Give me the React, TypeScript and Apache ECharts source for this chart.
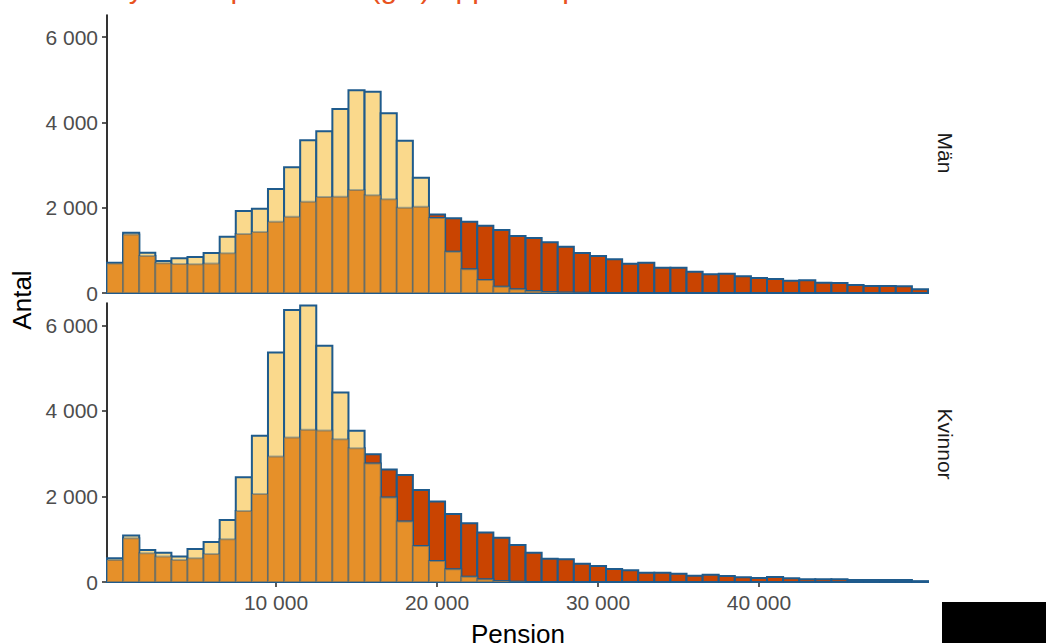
import React, { useEffect, useRef } from "react";
import * as echarts from "echarts";

// Histogram bin centres (bin width 1 000)
const binCenters = [
  0, 1000, 2000, 3000, 4000, 5000, 6000, 7000, 8000, 9000,
  10000, 11000, 12000, 13000, 14000, 15000, 16000, 17000, 18000, 19000,
  20000, 21000, 22000, 23000, 24000, 25000, 26000, 27000, 28000, 29000,
  30000, 31000, 32000, 33000, 34000, 35000, 36000, 37000, 38000, 39000,
  40000, 41000, 42000, 43000, 44000, 45000, 46000, 47000, 48000, 49000, 50000,
];

// Män
const menYellow = [
  711, 1414, 945, 750, 813, 844, 938, 1320, 1923, 1977,
  2439, 2947, 3580, 3791, 4315, 4753, 4720, 4214, 3571, 2704,
  1760, 968, 556, 305, 148, 86, 47, 20, 10, 5,
  0, 0, 0, 0, 0, 0, 0, 0, 0, 0,
  0, 0, 0, 0, 0, 0, 0, 0, 0, 0, 0,
];
const menRed = [
  690, 1370, 870, 700, 680, 675, 690, 930, 1385, 1430,
  1670, 1790, 2140, 2250, 2260, 2415, 2290, 2200, 2000, 2025,
  1840, 1752, 1672, 1578, 1477, 1337, 1290, 1189, 1086, 938,
  868, 790, 688, 711, 594, 594, 500, 438, 453, 391,
  352, 328, 289, 297, 242, 235, 188, 164, 164, 157, 86,
];

// Kvinnor
const womenYellow = [
  553, 1084, 749, 686, 593, 772, 936, 1451, 2449, 3416,
  5365, 6355, 6463, 5520, 4429, 3532, 2767, 1975, 1411, 842,
  491, 297, 124, 62, 20, 5, 0, 0, 0, 0,
  0, 0, 0, 0, 0, 0, 0, 0, 0, 0,
  0, 0, 0, 0, 0, 0, 0, 0, 0, 0, 0,
];
const womenRed = [
  515, 1022, 671, 593, 515, 554, 655, 999, 1661, 2058,
  2931, 3376, 3556, 3540, 3338, 3127, 2987, 2630, 2503, 2152,
  1879, 1591, 1373, 1154, 1037, 866, 686, 546, 531, 429,
  374, 304, 273, 218, 218, 195, 148, 172, 140, 109,
  94, 117, 86, 62, 62, 62, 47, 47, 47, 47, 20,
];

const yTicks = [0, 2000, 4000, 6000];
const xTicks = [10000, 20000, 30000, 40000];
const facetLabels = ["Män", "Kvinnor"];
const titleText = "Nyblivna pensioner (gul) uppdelat på kön";
const xTitle = "Pension";
const yTitle = "Antal";

const BIN_HALF = 500;
const YELLOW = "#FAD98C";
const ORANGE = "#E69029";
const RED = "#C94401";
const BLUE = "#1F5B8C";
const FONT = "Liberation Sans, Arial, sans-serif";

const fmt = (v: number) =>
  String(Math.round(v)).replace(/\B(?=(\d{3})+(?!\d))/g, " ");

function makeRender(fill: string, stroke: string, lw: number) {
  return (params: any, api: any) => {
    const x = api.value(0);
    const v = api.value(1);
    const p1 = api.coord([x - BIN_HALF, v]);
    const p0 = api.coord([x + BIN_HALF, 0]);
    return {
      type: "rect",
      shape: { x: p1[0], y: p1[1], width: p0[0] - p1[0], height: p0[1] - p1[1] },
      style: { fill, stroke, lineWidth: lw },
    };
  };
}

function layerSeries(gridIdx: number, yellow: number[], red: number[]) {
  const redData = binCenters.map((c, i) => [c, red[i]]);
  const yellowData = binCenters.map((c, i) => [c, yellow[i]]);
  const overlapData = binCenters.map((c, i) => [c, Math.min(yellow[i], red[i])]);
  return [
    {
      type: "custom",
      xAxisIndex: gridIdx,
      yAxisIndex: gridIdx,
      renderItem: makeRender(RED, BLUE, 2),
      data: redData,
      encode: { x: 0, y: 1 },
    },
    {
      type: "custom",
      xAxisIndex: gridIdx,
      yAxisIndex: gridIdx,
      renderItem: makeRender(YELLOW, BLUE, 2),
      data: yellowData,
      encode: { x: 0, y: 1 },
    },
    {
      type: "custom",
      xAxisIndex: gridIdx,
      yAxisIndex: gridIdx,
      renderItem: makeRender(ORANGE, "rgba(31,91,140,0.4)", 2),
      data: overlapData,
      encode: { x: 0, y: 1 },
    },
  ];
}

function yAxisCfg(gridIndex: number) {
  return {
    type: "value",
    gridIndex,
    min: 0,
    max: 6520,
    axisLine: { show: true, onZero: false, lineStyle: { color: "#000", width: 1.6 } },
    axisTick: {
      show: true,
      customValues: yTicks,
      length: 5,
      lineStyle: { color: "#333", width: 1.6 },
    },
    axisLabel: {
      customValues: yTicks,
      formatter: (v: number) => fmt(v),
      color: "#4D4D4D",
      fontSize: 21,
      fontFamily: FONT,
      margin: 9,
    },
    splitLine: { show: false },
  };
}

export default function App() {
  const ref = useRef<HTMLDivElement>(null);
  useEffect(() => {
    if (!ref.current) return;
    const chart = echarts.init(ref.current, undefined, { renderer: "svg" });
    const option: any = {
      animation: false,
      backgroundColor: "#fff",
      grid: [
        { left: 107, top: 15, width: 821, height: 278 },
        { left: 107, top: 303, width: 821, height: 279 },
      ],
      xAxis: [
        {
          type: "value",
          gridIndex: 0,
          min: -500,
          max: 50500,
          axisLine: { show: false },
          axisTick: { show: false },
          axisLabel: { show: false },
          splitLine: { show: false },
        },
        {
          type: "value",
          gridIndex: 1,
          min: -500,
          max: 50500,
          axisLine: { show: true, onZero: false, lineStyle: { color: "#000", width: 1.6 } },
          axisTick: {
            show: true,
            customValues: xTicks,
            length: 5,
            lineStyle: { color: "#333", width: 1.6 },
          },
          axisLabel: {
            customValues: xTicks,
            formatter: (v: number) => fmt(v),
            color: "#4D4D4D",
            fontSize: 21,
            fontFamily: FONT,
            margin: 10,
          },
          splitLine: { show: false },
        },
      ],
      yAxis: [yAxisCfg(0), yAxisCfg(1)],
      series: [
        ...layerSeries(0, menYellow, menRed),
        ...layerSeries(1, womenYellow, womenRed),
      ],
      graphic: [
        {
          type: "text",
          x: 107,
          y: 2,
          style: {
            text: titleText,
            fill: "#E8531F",
            fontSize: 30,
            fontFamily: FONT,
            align: "left",
            verticalAlign: "bottom",
          },
        },
        {
          type: "text",
          x: 22,
          y: 300,
          rotation: Math.PI / 2,
          style: {
            text: yTitle,
            fill: "#000",
            fontSize: 26,
            fontFamily: FONT,
            align: "center",
            verticalAlign: "middle",
          },
        },
        {
          type: "text",
          x: 518,
          y: 634,
          style: {
            text: xTitle,
            fill: "#000",
            fontSize: 26,
            fontFamily: FONT,
            align: "center",
            verticalAlign: "middle",
          },
        },
        {
          type: "text",
          x: 945,
          y: 153,
          rotation: -Math.PI / 2,
          style: {
            text: facetLabels[0],
            fill: "#1A1A1A",
            fontSize: 21,
            fontFamily: FONT,
            align: "center",
            verticalAlign: "middle",
          },
        },
        {
          type: "text",
          x: 945,
          y: 444,
          rotation: -Math.PI / 2,
          style: {
            text: facetLabels[1],
            fill: "#1A1A1A",
            fontSize: 21,
            fontFamily: FONT,
            align: "center",
            verticalAlign: "middle",
          },
        },
        {
          type: "rect",
          shape: { x: 942, y: 602, width: 104, height: 41 },
          style: { fill: "#000" },
        },
      ],
    };
    chart.setOption(option);
    return () => chart.dispose();
  }, []);
  return (
    <div
      ref={ref}
      style={{ position: "fixed", left: 0, top: 0, width: 1046, height: 643 }}
    />
  );
}
